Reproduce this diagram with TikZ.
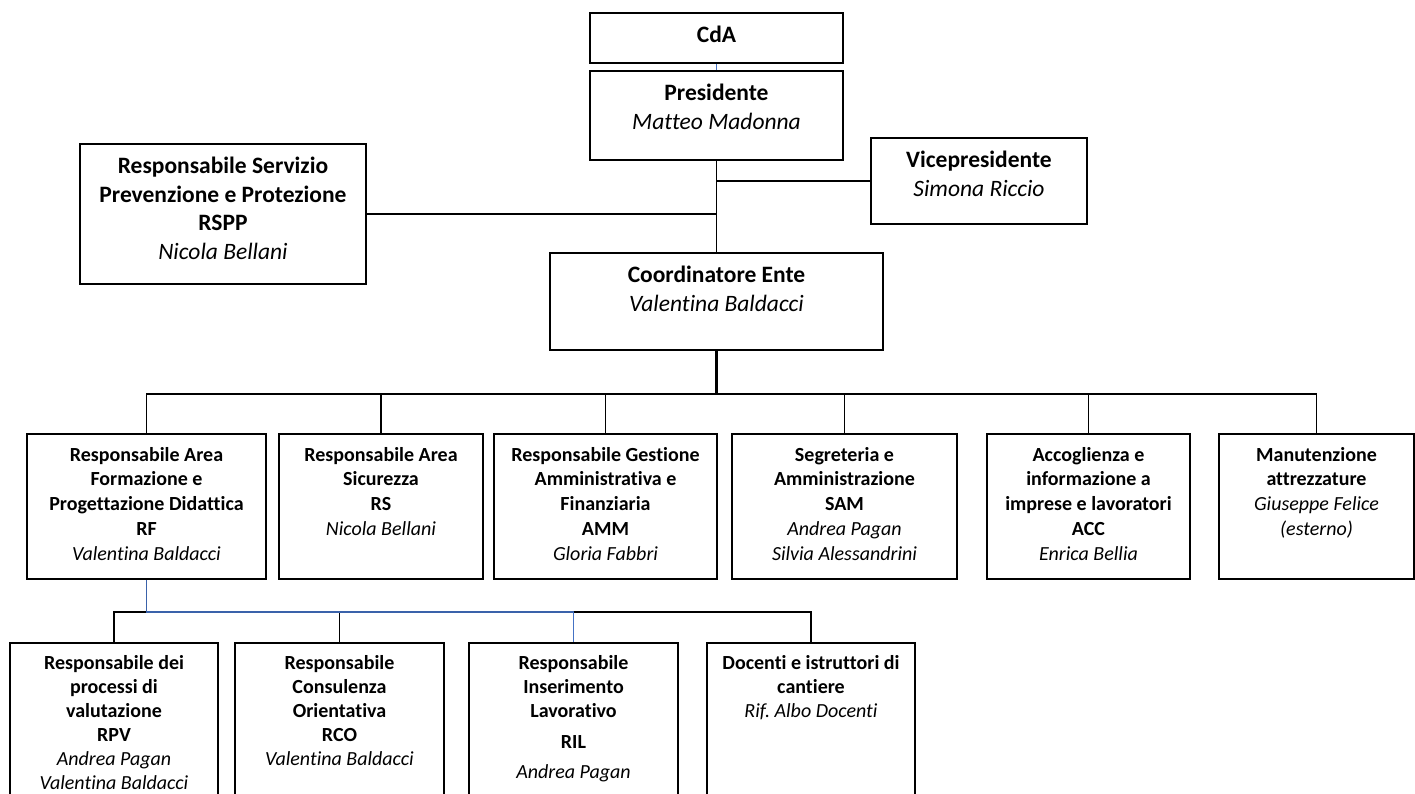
\documentclass[tikz,border=0pt]{standalone}
\usepackage{fontspec}
\setmainfont{Carlito}[Ligatures=NoCommon]
\frenchspacing
\definecolor{bluchiaro}{RGB}{68,114,196}
\definecolor{bluscuro}{RGB}{58,98,170}
% testo del riquadro: larghezza, altezza, righe
\newcommand{\cella}[3]{\parbox[t][#2pt][t]{#1pt}{\centering\vspace*{10pt}\strut #3}}

\begin{document}
\begin{tikzpicture}[x=1pt, y=-1pt,
  box/.style={draw, line width=1.8pt, anchor=north, inner sep=0pt},
  grande/.style={font=\fontsize{23.5}{28.5}\selectfont},
  piccolo/.style={font=\fontsize{20}{24.75}\selectfont},
  minore/.style={font=\fontsize{20}{24}\selectfont},
  conn/.style={line width=1.9pt},
  blu/.style={draw=bluchiaro, line width=1.2pt},
  blus/.style={draw=bluscuro, line width=1.9pt}]

\useasboundingbox (0,0) rectangle (1415,794);
\fill[white] (0,0) rectangle (1415,794);
\clip (0,0) rectangle (1415,794);

% vertice
\node[box,grande] (cda) at (716.5,12) {\cella{253}{50}{\textbf{CdA}}};
\node[box,grande] (pres) at (716.5,70) {\cella{253}{89}{\textbf{Presidente}\\\textit{Matteo Madonna}}};
\node[box,grande] (rspp) at (223,143) {\cella{286}{140}{{\bfseries Responsabile Servizio\\Prevenzione e Protezione\\RSPP}\\\textit{Nicola Bellani}}};
\node[box,grande] (vice) at (979,137) {\cella{216}{86}{\textbf{Vicepresidente}\\\textit{Simona Riccio}}};
\node[box,grande] (coord) at (716.5,252) {\cella{333}{97}{\textbf{Coordinatore Ente}\\\textit{Valentina Baldacci}}};

% aree
\node[box,piccolo] (rf) at (146.5,433) {\cella{239}{145}{{\bfseries Responsabile Area\\Formazione e\\Progettazione Didattica\\RF}\\\textit{Valentina Baldacci}}};
\node[box,piccolo] (rs) at (381,433) {\cella{204}{145}{{\bfseries Responsabile Area\\Sicurezza\\RS}\\\textit{Nicola Bellani}}};
\node[box,piccolo] (amm) at (605.5,433) {\cella{223}{145}{{\bfseries Responsabile Gestione\\Amministrativa e\\Finanziaria\\AMM}\\\textit{Gloria Fabbri}}};
\node[box,piccolo] (sam) at (844.5,433) {\cella{225}{145}{{\bfseries Segreteria e\\Amministrazione\\SAM}\\\textit{Andrea Pagan}\\\textit{Silvia Alessandrini}}};
\node[box,piccolo] (acc) at (1088.5,433) {\cella{203}{145}{{\bfseries Accoglienza e\\informazione a\\imprese e lavoratori\\ACC}\\\textit{Enrica Bellia}}};
\node[box,piccolo] (man) at (1316.5,433) {\cella{195}{145}{{\bfseries Manutenzione\\attrezzature}\\\textit{Giuseppe Felice}\\\textit{(esterno)}}};

% formazione
\node[box,minore] (rpv) at (114,642) {\cella{208}{175}{{\bfseries Responsabile dei\\processi di\\valutazione\\RPV}\\\textit{Andrea Pagan}\\\textit{Valentina Baldacci}}};
\node[box,minore] (rco) at (339.5,642) {\cella{209}{175}{{\bfseries Responsabile\\Consulenza\\Orientativa\\RCO}\\\textit{Valentina Baldacci}}};
\node[box,minore] (ril) at (573.5,642) {\cella{209}{175}{{\bfseries Responsabile\\Inserimento\\Lavorativo\\[7pt]RIL}\\[6pt]\textit{Andrea Pagan}}};
\node[box,minore] (doc) at (811,642) {\cella{208}{175}{{\bfseries Docenti e istruttori di\\cantiere}\\\textit{Rif. Albo Docenti}}};

% collegamenti in alto
\draw[blu] (cda.south) -- (pres.north);
\draw[conn] (pres.south) -- (coord.north);
\draw[conn] (rspp.east) -- (rspp.east -| pres.south);
\draw[conn] (vice.west) -- (vice.west -| pres.south);

% linea delle aree
\coordinate (b2) at ([yshift=-43pt]coord.south);
\draw[line width=3pt] (coord.south) -- (b2);
\draw[conn] (rf.north) -- (rf.north |- b2) -- (man.north |- b2) -- (man.north);
\foreach \n in {rs,amm,sam,acc}
  \draw[conn] (\n.north) -- (\n.north |- b2);

% linea della formazione
\coordinate (b3) at ([yshift=-32pt]rf.south);
\draw[conn] (rpv.north) -- (rpv.north |- b3) -- (b3);
\draw[conn] (rco.north) -- (rco.north |- b3);
\draw[conn] (ril.north |- b3) -- (doc.north |- b3) -- (doc.north);
\draw[blus] (rf.south) -- (b3) -- (ril.north |- b3);
\draw[blu] (ril.north |- b3) -- (ril.north);

\end{tikzpicture}
\end{document}
